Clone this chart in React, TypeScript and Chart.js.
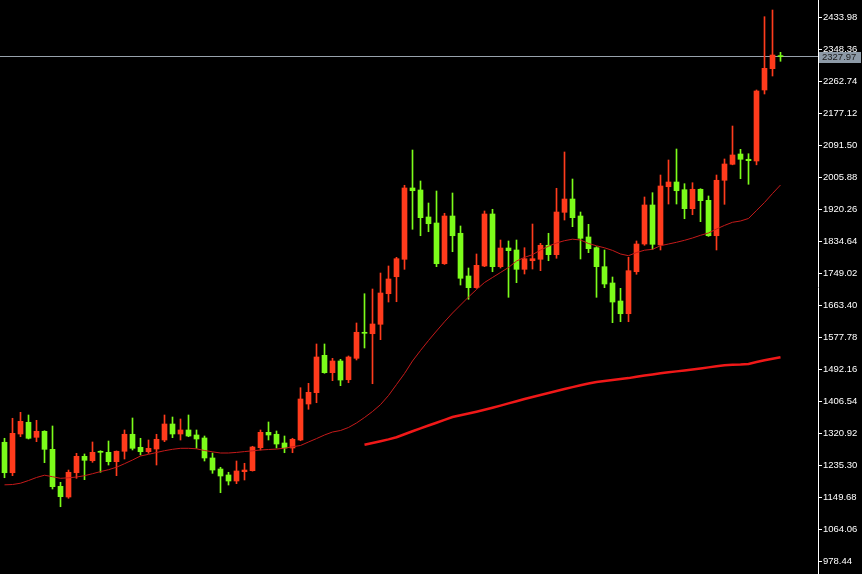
import React, { useEffect, useRef } from "react";
import { Chart, registerables } from "chart.js";

Chart.register(...registerables);

// ---- data ----
const OPEN = [
  1296.1, 1214.7, 1318.3, 1349.6, 1309.4, 1325.5, 1277.3, 1178.3, 1149.7, 1214.7,
  1258.6, 1246.8, 1272.0, 1269.3, 1244.2, 1272.0, 1317.5, 1282.7, 1270.9, 1278.1,
  1302.2, 1345.0, 1318.3, 1329.0, 1315.6, 1307.6, 1254.1, 1224.6, 1208.6, 1192.5,
  1217.4, 1220.1, 1281.6, 1322.8, 1317.5, 1294.2, 1280.8, 1302.2, 1398.5, 1428.8,
  1528.8, 1482.3, 1513.6, 1463.5, 1520.8, 1590.4, 1586.6, 1611.8, 1693.6, 1739.1,
  1785.7, 1976.5, 1971.1, 1898.9, 1882.8, 1773.9, 1901.5, 1855.3, 1741.0, 1709.7,
  1767.8, 1906.9, 1765.9, 1815.9, 1810.6, 1758.9, 1781.9, 1785.7, 1823.2, 1798.0,
  1911.4, 1947.0, 1901.5, 1845.4, 1816.7, 1765.9, 1722.3, 1674.1, 1640.1, 1752.5,
  1826.6, 1931.0, 1824.0, 1979.9, 1992.5, 1971.9, 1921.1, 1973.0, 1943.5, 1848.8,
  1997.1, 2039.9, 2067.4, 2053.3, 2048.7, 2238.7, 2295.7, 2329.6,
];
const HIGH = [
  1306.8, 1360.3, 1376.3, 1369.1, 1354.9, 1327.0, 1339.7, 1189.0, 1221.9, 1266.6,
  1264.8, 1296.9, 1273.5, 1299.5, 1273.0, 1329.0, 1361.1, 1306.8, 1302.2, 1317.5,
  1369.1, 1363.7, 1358.4, 1369.1, 1329.0, 1312.9, 1267.4, 1229.2, 1215.8, 1246.0,
  1239.9, 1285.4, 1329.0, 1350.4, 1326.3, 1312.9, 1306.8, 1442.1, 1453.9, 1559.1,
  1559.1, 1520.8, 1518.1, 1527.0, 1615.3, 1693.6, 1706.2, 1749.0, 1767.8, 1791.0,
  1983.7, 2078.1, 1995.2, 1936.3, 1968.4, 1908.8, 1963.1, 1874.8, 1762.4, 1799.9,
  1914.9, 1919.5, 1837.3, 1834.7, 1837.3, 1816.7, 1880.1, 1828.5, 1855.3, 1975.7,
  2072.8, 2000.5, 1912.2, 1879.3, 1819.4, 1810.6, 1738.3, 1708.1, 1791.0, 1834.7,
  1952.4, 1963.9, 2011.2, 2051.4, 2080.8, 1988.0, 1990.6, 1974.5, 1955.1, 2011.2,
  2054.1, 2142.3, 2080.0, 2068.2, 2238.7, 2434.8, 2452.7, 2339.5,
];
const LOW = [
  1201.3, 1206.7, 1311.0, 1304.9, 1297.7, 1241.5, 1171.1, 1123.7, 1146.2, 1199.7,
  1196.0, 1242.5, 1215.8, 1235.3, 1206.7, 1251.4, 1275.5, 1262.1, 1266.6, 1235.3,
  1297.7, 1308.4, 1302.2, 1311.0, 1280.0, 1246.0, 1213.1, 1161.2, 1181.8, 1185.3,
  1195.2, 1219.0, 1275.5, 1302.2, 1280.8, 1268.2, 1268.2, 1300.3, 1384.4, 1402.0,
  1480.7, 1460.9, 1447.5, 1455.5, 1516.3, 1548.4, 1452.8, 1570.6, 1671.4, 1672.2,
  1758.9, 1866.0, 1848.8, 1859.5, 1765.9, 1772.0, 1806.0, 1716.9, 1678.7, 1708.0,
  1765.9, 1752.5, 1762.4, 1684.0, 1723.1, 1746.4, 1759.7, 1755.2, 1781.9, 1788.4,
  1890.8, 1872.9, 1786.5, 1803.4, 1684.0, 1709.7, 1616.1, 1618.7, 1618.7, 1745.6,
  1823.2, 1812.4, 1810.6, 1933.6, 1933.6, 1894.3, 1905.0, 1886.3, 1847.0, 1810.6,
  1932.8, 2038.5, 2001.3, 1986.4, 2038.5, 2228.0, 2276.1, 2315.5,
];
const CLOSE = [
  1214.7, 1320.1, 1352.2, 1306.8, 1325.5, 1277.3, 1177.3, 1150.5, 1215.8, 1258.6,
  1247.9, 1269.3, 1269.3, 1244.2, 1272.0, 1317.5, 1280.0, 1270.9, 1280.0, 1304.1,
  1345.0, 1318.3, 1329.0, 1312.9, 1304.9, 1254.1, 1221.9, 1205.9, 1192.5, 1219.3,
  1221.9, 1283.5, 1322.8, 1315.6, 1291.5, 1280.8, 1304.1, 1411.9, 1429.8, 1524.3,
  1482.3, 1513.6, 1462.7, 1524.3, 1590.4, 1587.7, 1612.6, 1695.5, 1733.0, 1787.3,
  1976.5, 1969.2, 1897.0, 1880.9, 1773.9, 1901.5, 1848.8, 1734.9, 1709.7, 1769.6,
  1906.9, 1765.9, 1815.9, 1808.7, 1758.9, 1787.3, 1787.3, 1823.2, 1798.0, 1912.2,
  1947.0, 1897.0, 1841.9, 1814.1, 1765.9, 1719.6, 1671.4, 1640.1, 1755.2, 1826.6,
  1931.0, 1825.8, 1981.8, 1992.5, 1969.2, 1921.1, 1973.0, 1942.5, 1848.8, 1997.1,
  2040.7, 2064.8, 2053.3, 2049.5, 2236.0, 2296.7, 2332.3, 2327.97,
];
const FAST_MA = [
  1182.3, 1183.1, 1186.6, 1193.8, 1201.9, 1208.0, 1204.0, 1199.7, 1201.1, 1203.2,
  1206.7, 1212.0, 1217.7, 1222.7, 1229.4, 1238.8, 1248.7, 1259.4, 1263.9, 1268.8,
  1273.6, 1277.3, 1280.0, 1280.0, 1278.7, 1274.1, 1270.6, 1267.4, 1267.4, 1269.0,
  1271.2, 1273.3, 1275.5, 1276.8, 1277.9, 1280.3, 1284.0, 1287.5, 1296.9, 1306.0,
  1315.6, 1323.6, 1327.6, 1335.7, 1347.7, 1362.4, 1378.5, 1396.9, 1421.3, 1450.7,
  1480.1, 1513.6, 1541.7, 1568.4, 1593.8, 1618.5, 1642.0, 1663.4, 1684.8, 1704.9,
  1723.6, 1737.0, 1750.4, 1763.8, 1781.1, 1791.0, 1798.0, 1810.6, 1820.7, 1829.3,
  1835.5, 1839.5, 1837.3, 1828.0, 1821.8, 1816.5, 1809.5, 1799.9, 1795.3, 1803.9,
  1810.0, 1812.4, 1822.1, 1826.6, 1831.2, 1836.5, 1842.7, 1849.9, 1856.1, 1866.8,
  1876.4, 1884.7, 1888.2, 1894.9, 1916.3, 1937.7, 1961.7, 1984.5,
];
const SLOW_MA_START = 45;
const SLOW_MA = [
  1289.4, 1294.2, 1299.0, 1303.8, 1309.7, 1317.5, 1325.5, 1333.2, 1341.0, 1348.5,
  1356.2, 1363.7, 1368.6, 1373.1, 1377.9, 1383.0, 1388.4, 1394.2, 1400.1, 1406.0,
  1411.9, 1417.3, 1422.6, 1428.0, 1433.3, 1438.7, 1443.7, 1448.6, 1453.4, 1457.4,
  1460.1, 1462.7, 1465.4, 1467.8, 1471.3, 1474.5, 1477.5, 1480.7, 1483.3, 1485.8,
  1488.4, 1491.1, 1493.8, 1496.5, 1499.4, 1502.1, 1503.4, 1504.2, 1505.6, 1510.9,
  1515.7, 1519.5, 1523.5,
];
const PRICE_TICKS = [
  978.44, 1064.06, 1149.68, 1235.3, 1320.92, 1406.54, 1492.16, 1577.78, 1663.4,
  1749.02, 1834.64, 1920.26, 2005.88, 2091.5, 2177.12, 2262.74, 2348.36, 2433.98,
];
const CURRENT_PRICE = 2327.97;

// ---- view settings ----
const Y_MIN = 943.68;
const Y_MAX = 2479.47;
const X_MIN = -0.5625;
const X_MAX = 101.6875;
const BULL = "#ff3b1c";
const BEAR = "#7cfc1a";
const FONT = "'Liberation Sans', Arial, sans-serif";

const pricePlugin = {
  id: "priceLine",
  beforeDatasetsDraw(chart: any) {
    const { ctx, chartArea, scales } = chart;
    const y = Math.round(scales.y.getPixelForValue(CURRENT_PRICE)) - 0.5;
    ctx.save();
    ctx.strokeStyle = "#98a2ac";
    ctx.lineWidth = 1;
    ctx.beginPath();
    ctx.moveTo(chartArea.left, y);
    ctx.lineTo(chartArea.right, y);
    ctx.stroke();
    ctx.restore();
  },
  afterDraw(chart: any) {
    const { ctx, chartArea, scales } = chart;
    const y = Math.round(scales.y.getPixelForValue(CURRENT_PRICE));
    ctx.save();
    ctx.fillStyle = "#8d9aa7";
    ctx.fillRect(chartArea.right + 1, y - 5, 42, 11);
    ctx.fillStyle = "#1c1c1c";
    ctx.font = `9.5px ${FONT}`;
    ctx.textBaseline = "middle";
    ctx.textAlign = "left";
    ctx.fillText(CURRENT_PRICE.toFixed(2), chartArea.right + 4, y + 0.5);
    ctx.restore();
  },
};

export default function App() {
  const ref = useRef<HTMLCanvasElement | null>(null);

  useEffect(() => {
    const canvas = ref.current;
    if (!canvas) return;
    const idx = OPEN.map((_, i) => i);
    const colors = idx.map((i) => (CLOSE[i] >= OPEN[i] ? BULL : BEAR));
    const chart = new Chart(canvas, {
      type: "bar",
      data: {
        datasets: [
          {
            type: "line",
            data: FAST_MA.map((v, i) => ({ x: i, y: v })),
            borderColor: "#c41a1a",
            borderWidth: 1,
            pointRadius: 0,
            tension: 0,
          } as any,
          {
            type: "line",
            data: SLOW_MA.map((v, j) => ({ x: SLOW_MA_START + j, y: v })),
            borderColor: "#f01818",
            borderWidth: 2.5,
            pointRadius: 0,
            tension: 0,
          } as any,
          {
            type: "bar",
            data: idx.map((i) => ({ x: i, y: [OPEN[i], CLOSE[i]] })),
            backgroundColor: colors,
            borderWidth: 0,
            barThickness: 5,
            grouped: false,
            minBarLength: 1,
          } as any,
          {
            type: "bar",
            data: idx.map((i) => ({ x: i, y: [LOW[i], HIGH[i]] })),
            backgroundColor: colors,
            borderWidth: 0,
            barThickness: 1,
            grouped: false,
          } as any,
        ],
      },
      options: {
        responsive: false,
        animation: false,
        devicePixelRatio: 1,
        layout: { padding: 0 },
        plugins: { legend: { display: false }, tooltip: { enabled: false } },
        scales: {
          x: {
            type: "linear",
            display: false,
            min: X_MIN,
            max: X_MAX,
            offset: false,
          },
          y: {
            type: "linear",
            position: "right",
            min: Y_MIN,
            max: Y_MAX,
            afterBuildTicks: (scale: any) => {
              scale.ticks = PRICE_TICKS.map((v) => ({ value: v }));
            },
            afterFit: (scale: any) => {
              scale.width = 44;
              scale.paddingTop = 0;
              scale.paddingBottom = 0;
            },
            ticks: {
              color: "#ffffff",
              padding: 1,
              font: { family: FONT, size: 9.5 },
              callback: (v: any) => Number(v).toFixed(2),
            },
            grid: {
              drawOnChartArea: false,
              drawTicks: true,
              tickLength: 4,
              color: "#ffffff",
            },
            border: { display: true, color: "#ffffff", width: 1 },
          },
        },
      } as any,
      plugins: [pricePlugin],
    });
    return () => chart.destroy();
  }, []);

  return (
    <div
      style={{
        position: "fixed",
        left: 0,
        top: 0,
        width: 862,
        height: 574,
        background: "#000000",
      }}
    >
      <canvas ref={ref} width={862} height={574} style={{ display: "block", width: 862, height: 574 }} />
    </div>
  );
}
